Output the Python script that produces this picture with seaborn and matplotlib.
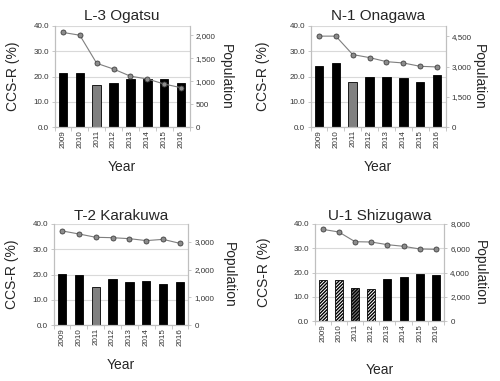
import numpy as np
import pandas as pd
import matplotlib
matplotlib.use("Agg")
import matplotlib.pyplot as plt
import matplotlib.ticker as mticker
import seaborn as sns

sns.set_theme(style="white")
plt.rcParams['font.family'] = ['Liberation Sans', 'DejaVu Sans']
plt.rcParams['hatch.linewidth'] = 1.0

years = ["2009", "2010", "2011", "2012", "2013", "2014", "2015", "2016"]

titles = ["L-3 Ogatsu", "N-1 Onagawa", "T-2 Karakuwa", "U-1 Shizugawa"]

ccs_ogatsu = [21.5, 21.5, 16.6, 17.6, 19.2, 19.2, 19.2, 17.6]
ccs_onagawa = [24.2, 25.2, 18.0, 19.7, 20.0, 19.3, 18.0, 20.6]
ccs_karakuwa = [20.2, 19.8, 15.0, 18.1, 16.9, 17.3, 16.2, 16.9]
ccs_shizugawa = [16.9, 16.9, 13.5, 13.3, 17.5, 18.3, 19.2, 18.8]

pop_ogatsu = [2060, 2000, 1390, 1265, 1110, 1050, 940, 860]
pop_onagawa = [4500, 4500, 3590, 3440, 3240, 3175, 3010, 2980]
pop_karakuwa = [3400, 3290, 3170, 3155, 3120, 3050, 3095, 2950]
pop_shizugawa = [7560, 7340, 6540, 6515, 6295, 6160, 5940, 5910]

# bar style categories: "normal", "disaster", "hatched", "hatched_disaster"
style_ogatsu = ["normal", "normal", "disaster", "normal", "normal", "normal", "normal", "normal"]
style_onagawa = style_ogatsu
style_karakuwa = style_ogatsu
style_shizugawa = ["hatched", "hatched", "hatched_disaster", "hatched", "normal", "normal", "normal", "normal"]

pop_max = [2200, 5000, 3650, 8000]
pop_step = [500, 1500, 1000, 2000]

ccs_all = [ccs_ogatsu, ccs_onagawa, ccs_karakuwa, ccs_shizugawa]
pop_all = [pop_ogatsu, pop_onagawa, pop_karakuwa, pop_shizugawa]
style_all = [style_ogatsu, style_onagawa, style_karakuwa, style_shizugawa]

# layout in pixels: x0, x1, y_top, y_bottom
rects_px = [(54.5, 189.5, 26, 127.3), (310.5, 445.5, 26, 127.3),
            (53.6, 188.4, 224, 325), (314.6, 444, 224, 321)]
left_lab_x = [-0.31, -0.35, -0.31, -0.39]
right_lab_x = [1.27, 1.25, 1.30, 1.28]
year_lab_y = [-0.39, -0.39, -0.40, -0.505]
title_pad = [4.5, 4.5, 3.0, 3.0]

W, H = 500, 381
fig = plt.figure(figsize=(W / 100, H / 100), dpi=100)

fill_map = {"normal": "black", "disaster": "#808080",
            "hatched": "white", "hatched_disaster": "#808080"}
spine_c = "#bfbfbf"
grid_c = "#d9d9d9"
tick_fs = 5.8
lab_fs = 10
title_fs = 11

for i in range(4):
    x0, x1, yt, yb = rects_px[i]
    ax = fig.add_axes([x0 / W, 1 - yb / H, (x1 - x0) / W, (yb - yt) / H])
    df = pd.DataFrame({"Year": years, "CCS": ccs_all[i], "style": style_all[i]})
    pal = {y: fill_map[s] for y, s in zip(years, style_all[i])}
    sns.barplot(data=df, x="Year", y="CCS", hue="Year", palette=pal, legend=False,
                width=0.5, saturation=1, ax=ax, edgecolor="black", linewidth=0.6)
    for p, s in zip(ax.patches, style_all[i]):
        if s.startswith("hatched"):
            p.set_hatch("/" * 10)
            p.set_edgecolor("black")
    ax.set_xlim(-0.5, 7.5)
    ax.set_ylim(0, 40)
    ax.set_yticks(np.arange(0, 41, 10))
    ax.yaxis.set_major_formatter(mticker.FormatStrFormatter("%.1f"))
    ax.yaxis.grid(True, color=grid_c, linewidth=0.8)
    ax.set_axisbelow(True)
    ax.tick_params(axis="y", which="major", length=2.5, width=0.6, color=spine_c,
                   labelsize=tick_fs, pad=1.5, left=True, labelcolor="#333333")
    ax.tick_params(axis="x", which="major", length=0, labelsize=tick_fs, pad=2,
                   labelrotation=90, labelcolor="#333333")
    ax.set_xticks(np.arange(-0.5, 8.0, 1.0), minor=True)
    ax.tick_params(axis="x", which="minor", length=3, width=0.6, color=spine_c, bottom=True)
    for sp in ax.spines.values():
        sp.set_color(spine_c)
        sp.set_linewidth(0.8)
    ax.spines["top"].set_visible(False)
    ax.set_title(titles[i], fontsize=title_fs, pad=title_pad[i])
    ax.set_ylabel("CCS-R (%)", fontsize=lab_fs, va="center")
    ax.yaxis.set_label_coords(left_lab_x[i], 0.5)
    ax.set_xlabel("Year", fontsize=lab_fs, va="center")
    ax.xaxis.set_label_coords(0.5, year_lab_y[i])

    ax2 = ax.twinx()
    sns.lineplot(x=np.arange(len(years)), y=pop_all[i], ax=ax2, color="#7f7f7f",
                 linewidth=0.8, marker="o", markersize=3.6,
                 markerfacecolor="#8c8c8c", markeredgecolor="#404040", markeredgewidth=0.6)
    ax2.set_ylim(0, pop_max[i])
    ax2.set_yticks(np.arange(0, pop_max[i] + 1, pop_step[i]))
    ax2.yaxis.set_major_formatter(mticker.StrMethodFormatter("{x:,.0f}"))
    ax2.tick_params(axis="y", length=2.5, width=0.6, color=spine_c, labelsize=tick_fs,
                    pad=2, right=True, labelcolor="#333333")
    for sp in ax2.spines.values():
        sp.set_color(spine_c)
        sp.set_linewidth(0.8)
    ax2.spines["top"].set_visible(False)
    ax2.set_ylabel("Population", fontsize=lab_fs, rotation=270, va="center")
    ax2.yaxis.set_label_coords(right_lab_x[i], 0.5)
    ax2.set_xlim(-0.5, 7.5)

fig.savefig("out.png", dpi=100)
